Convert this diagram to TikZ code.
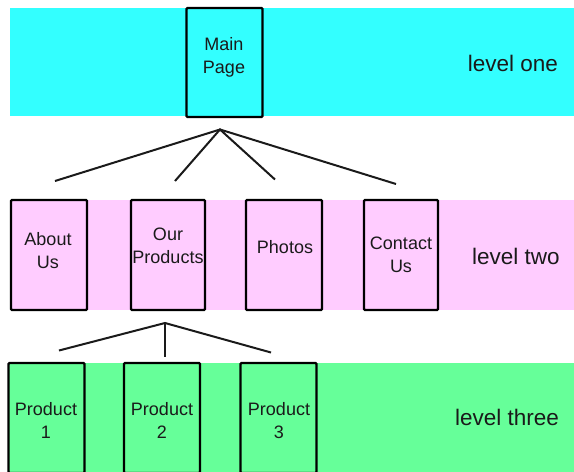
\documentclass[tikz,border=0pt]{standalone}
\usepackage{fontspec}
\setmainfont{Liberation Sans}
\definecolor{bandcyan}{HTML}{33FFFF}
\definecolor{bandpink}{HTML}{FFCCFF}
\definecolor{bandgreen}{HTML}{66FF99}
\definecolor{ink}{HTML}{1A1A1A}
\begin{document}
\begin{tikzpicture}[x=1pt,y=-1pt,
  pagebox/.style={draw=black,line width=2.2pt,rounded corners=1pt,minimum width=76pt,minimum height=109pt,inner sep=0pt},
  boxtext/.style={text=ink,align=center,font=\fontsize{18}{23}\selectfont,inner sep=0pt},
  leveltext/.style={text=ink,font=\fontsize{22.5}{26}\selectfont,inner sep=0pt},
  link/.style={draw=ink,line width=2pt}]
\useasboundingbox (0,0) rectangle (574,472);
\clip (0,0) rectangle (574,472);
% bands
\fill[bandcyan] (10,8) rectangle (574,116);
\fill[bandpink] (10,200) rectangle (574,310);
\fill[bandgreen] (8,363) rectangle (574,474);
% level one
\node[pagebox,fill=bandcyan] (main) at (224.5,62.5) {};
\node[boxtext] (maint) at (224,57) {Main\\Page};
\node[leveltext] (l1) at (513,63) {level one};
% level two
\node[pagebox,fill=bandpink,minimum height=110pt] (about) at (49,255) {};
\node[pagebox,fill=bandpink,minimum height=110pt,minimum width=74pt] (prod) at (168,255) {};
\node[pagebox,fill=bandpink,minimum height=110pt] (photos) at (284,255) {};
\node[pagebox,fill=bandpink,minimum height=110pt,minimum width=74pt] (contact) at (401,255) {};
\node[boxtext] (aboutt) at (48,251) {About\\Us};
\node[boxtext] (prodt) at (168,246) {Our\\Products};
\node[boxtext] (photost) at (285,247) {Photos};
\node[boxtext] (contactt) at (401,255) {Contact\\Us};
\node[leveltext] (l2) at (516,256) {level two};
% level three
\node[pagebox,fill=bandgreen,minimum height=110pt] (p1) at (46.5,418) {};
\node[pagebox,fill=bandgreen,minimum height=110pt] (p2) at (162,418) {};
\node[pagebox,fill=bandgreen,minimum height=110pt] (p3) at (278.5,418) {};
\node[boxtext] (p1t) at (46,420) {Product\\1};
\node[boxtext] (p2t) at (162,420) {Product\\2};
\node[boxtext] (p3t) at (279,421) {Product\\3};
\node[leveltext] (l3) at (507,417) {level three};
% connectors level one -> two
\coordinate (apexA) at (220,129.5);
\coordinate (eA1) at (55,181);
\coordinate (eA2) at (175,181);
\coordinate (eA3) at (275,179.5);
\coordinate (eA4) at (396,184);
\draw[link] (eA1) -- (apexA) -- (eA4);
\draw[link] (eA2) -- (apexA) -- (eA3);
% connectors level two -> three
\coordinate (apexB) at (165,323);
\coordinate (eB1) at (59,350.5);
\coordinate (eB2) at (165,357);
\coordinate (eB3) at (271,352.5);
\draw[link] (eB1) -- (apexB) -- (eB3);
\draw[link] (apexB) -- (eB2);
\end{tikzpicture}
\end{document}
